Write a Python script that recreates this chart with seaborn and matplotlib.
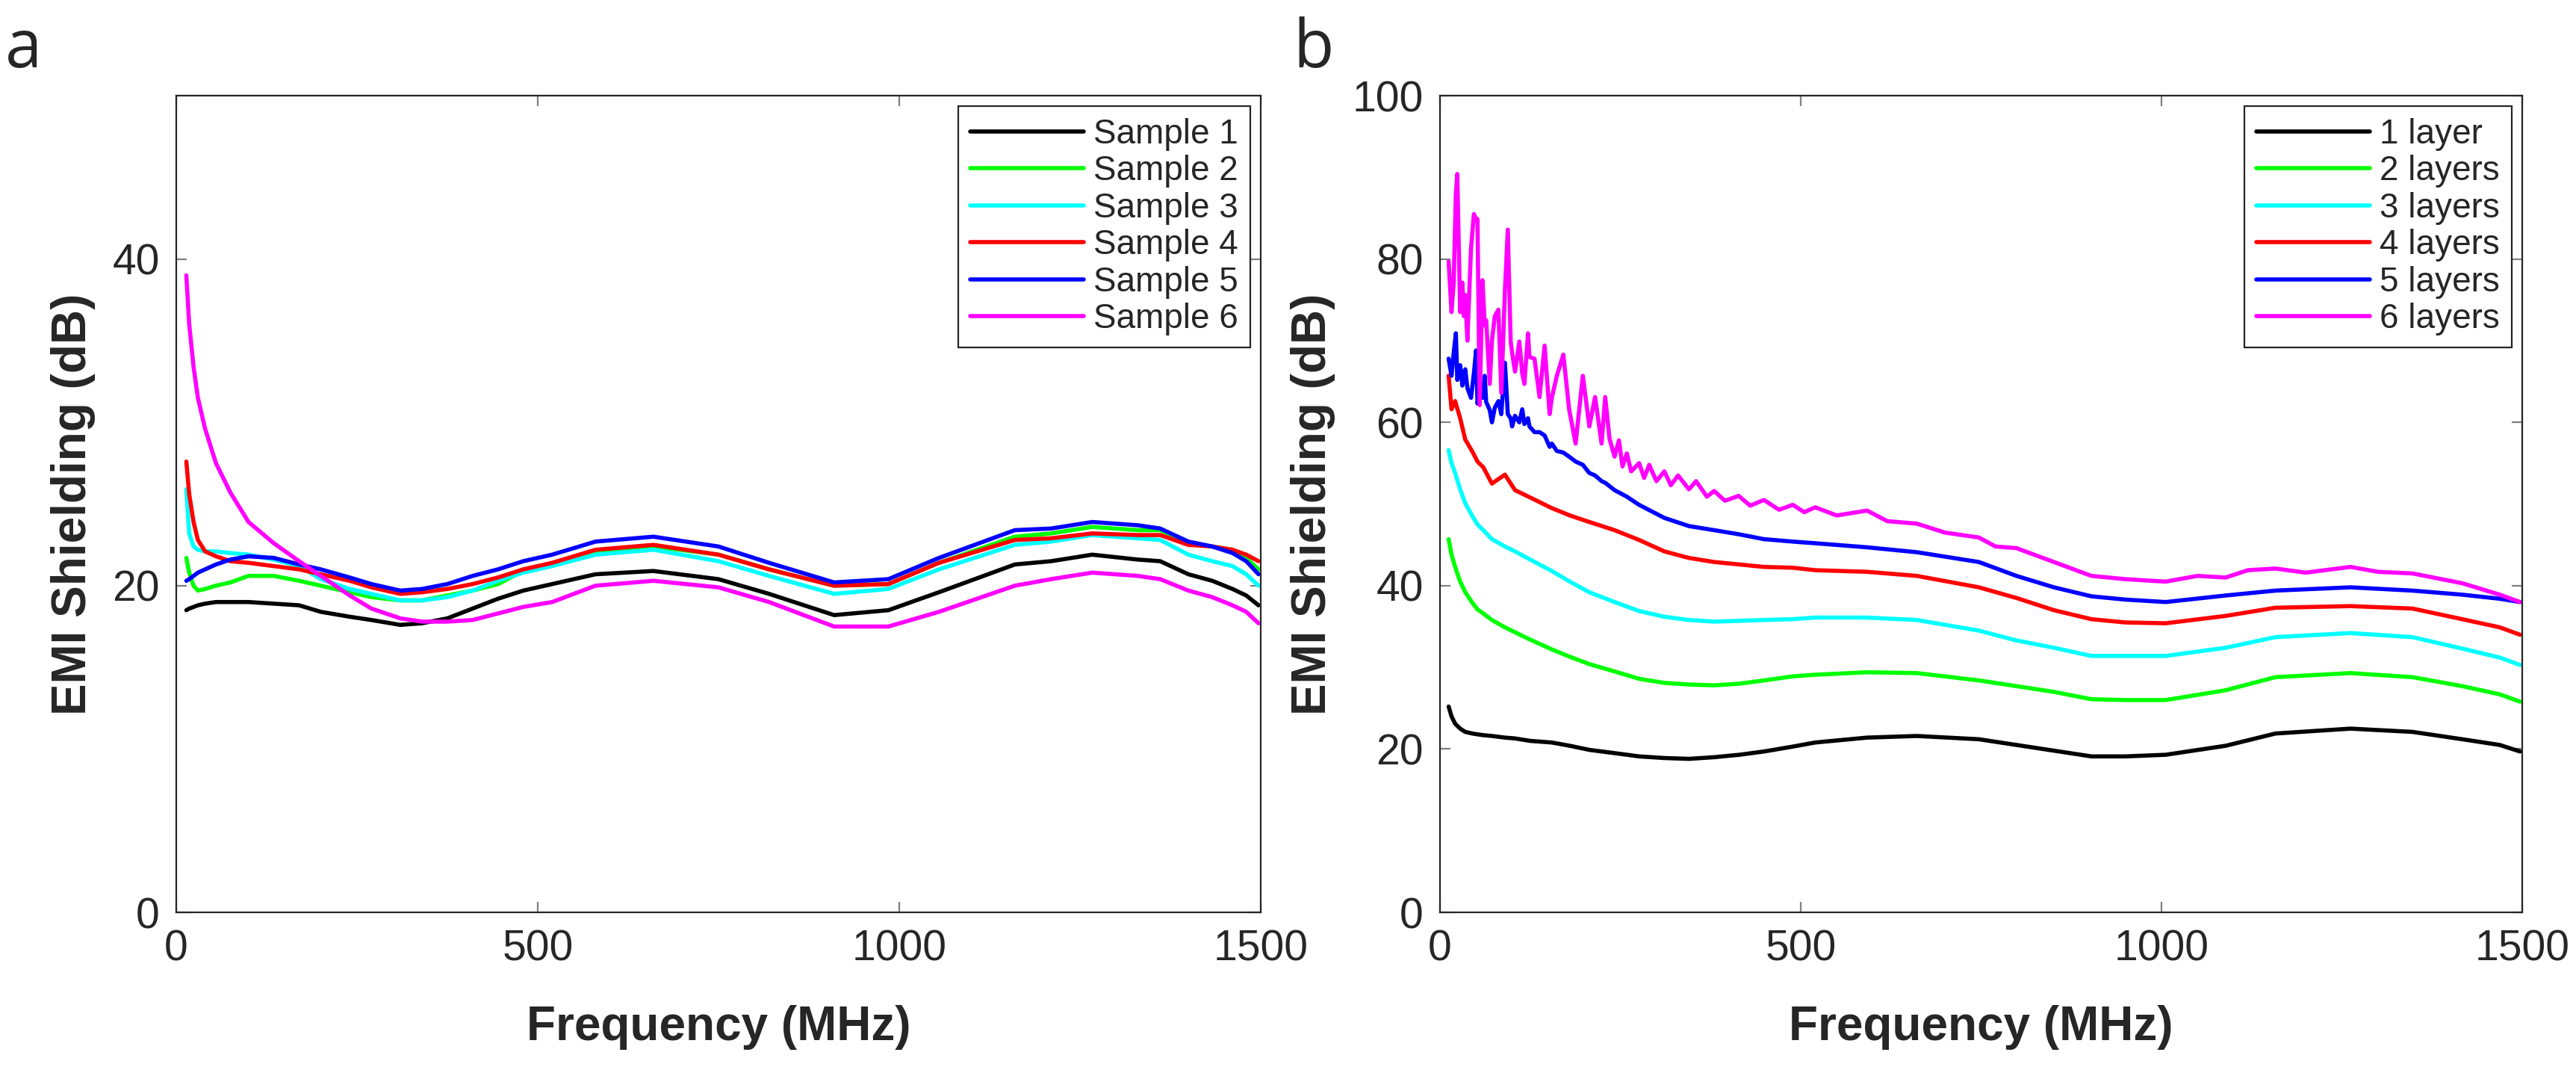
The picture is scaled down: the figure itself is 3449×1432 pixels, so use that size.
import numpy as np
import pandas as pd
import matplotlib
matplotlib.use("Agg")
import matplotlib.pyplot as plt
import seaborn as sns

# ---- panel a: six samples ----
freq_a = [14, 18, 24, 30, 40, 55, 75, 100, 135, 170, 200, 240, 270, 310, 340, 375,
          410, 445, 480, 520, 580, 660, 750, 820, 910, 985, 1055, 1160, 1210, 1267,
          1330, 1361, 1400, 1433, 1461, 1480, 1497]

sample_1 = [18.5, 18.6, 18.7, 18.8, 18.9, 19.0, 19.0, 19.0, 18.9, 18.8, 18.4, 18.1, 17.9,
            17.6, 17.7, 18.0, 18.6, 19.2, 19.7, 20.1, 20.7, 20.9, 20.4, 19.5, 18.2, 18.5,
            19.6, 21.3, 21.5, 21.9, 21.6, 21.5, 20.7, 20.3, 19.8, 19.4, 18.8]
sample_2 = [21.7, 20.8, 20.0, 19.7, 19.8, 20.0, 20.2, 20.6, 20.6, 20.3, 20.0, 19.6, 19.3,
            19.1, 19.1, 19.4, 19.7, 20.1, 20.9, 21.3, 22.0, 22.4, 21.9, 21.0, 20.0, 20.1,
            21.4, 23.0, 23.2, 23.6, 23.4, 23.4, 22.6, 22.4, 22.2, 21.7, 21.0]
sample_3 = [25.9, 23.2, 22.4, 22.2, 22.1, 22.1, 22.0, 21.9, 21.6, 21.2, 20.4, 19.8, 19.5,
            19.1, 19.1, 19.3, 19.7, 20.3, 20.8, 21.2, 21.9, 22.2, 21.5, 20.6, 19.5, 19.8,
            21.0, 22.5, 22.7, 23.1, 22.9, 22.8, 21.9, 21.5, 21.2, 20.7, 20.0]
sample_4 = [27.6, 25.6, 23.9, 22.8, 22.1, 21.8, 21.5, 21.4, 21.2, 21.0, 20.7, 20.3, 19.9,
            19.5, 19.6, 19.8, 20.1, 20.5, 21.0, 21.4, 22.2, 22.5, 21.9, 21.0, 20.0, 20.1,
            21.4, 22.8, 22.9, 23.2, 23.1, 23.1, 22.5, 22.4, 22.2, 21.9, 21.5]
sample_5 = [20.3, 20.4, 20.6, 20.8, 21.0, 21.3, 21.6, 21.8, 21.7, 21.3, 21.0, 20.5, 20.1,
            19.7, 19.8, 20.1, 20.6, 21.0, 21.5, 21.9, 22.7, 23.0, 22.4, 21.4, 20.2, 20.4,
            21.7, 23.4, 23.5, 23.9, 23.7, 23.5, 22.7, 22.4, 22.0, 21.5, 20.7]
sample_6 = [39.0, 36.0, 33.4, 31.5, 29.6, 27.5, 25.7, 23.9, 22.6, 21.5, 20.6, 19.4, 18.6,
            18.0, 17.8, 17.8, 17.9, 18.3, 18.7, 19.0, 20.0, 20.3, 19.9, 19.0, 17.5, 17.5,
            18.4, 20.0, 20.4, 20.8, 20.6, 20.4, 19.7, 19.3, 18.8, 18.4, 17.7]

# ---- panel b: number of layers ----
freq_b = [12, 16, 21, 28, 35, 45, 52, 60, 72, 90, 104, 125, 155, 180, 207, 242, 276,
          311, 345, 380, 415, 449, 489, 520, 592, 661, 747, 799, 851, 903, 950, 1006,
          1089, 1158, 1262, 1348, 1417, 1469, 1497]

layer_1 = [25.2, 24.0, 23.1, 22.5, 22.1, 21.9, 21.8, 21.7, 21.6, 21.4, 21.3, 21.0, 20.8,
           20.4, 19.9, 19.5, 19.1, 18.9, 18.8, 19.0, 19.3, 19.7, 20.3, 20.8, 21.4, 21.6,
           21.2, 20.5, 19.8, 19.1, 19.1, 19.3, 20.4, 21.9, 22.5, 22.1, 21.2, 20.5, 19.7]
layer_2 = [45.7, 43.8, 42.3, 40.5, 39.2, 37.9, 37.1, 36.6, 35.8, 34.9, 34.3, 33.4, 32.2,
           31.3, 30.4, 29.5, 28.6, 28.1, 27.9, 27.8, 28.0, 28.4, 28.9, 29.1, 29.4, 29.3,
           28.4, 27.7, 27.0, 26.1, 26.0, 26.0, 27.2, 28.8, 29.3, 28.8, 27.7, 26.7, 25.8]
layer_3 = [56.6, 55.0, 53.8, 51.8, 50.1, 48.5, 47.5, 46.8, 45.7, 44.8, 44.2, 43.2, 41.8,
           40.5, 39.2, 38.0, 36.9, 36.2, 35.8, 35.6, 35.7, 35.8, 35.9, 36.1, 36.1, 35.8,
           34.5, 33.3, 32.4, 31.4, 31.4, 31.4, 32.4, 33.7, 34.2, 33.7, 32.3, 31.2, 30.3]
layer_4 = [65.7, 61.6, 62.6, 60.5, 57.9, 56.4, 55.2, 54.5, 52.5, 53.6, 51.7, 50.8, 49.5,
           48.6, 47.8, 46.8, 45.6, 44.2, 43.4, 42.9, 42.6, 42.3, 42.2, 41.9, 41.7, 41.2,
           39.8, 38.5, 37.0, 35.9, 35.5, 35.4, 36.3, 37.3, 37.5, 37.2, 35.9, 34.9, 34.0]

# 5 layers is noisy below ~250 MHz, so it gets a denser grid
freq_b5 = [12, 16, 19, 22, 24, 28, 31, 33, 35, 38, 43, 47, 50, 52, 55, 59, 62, 64,
           69, 72, 76, 81, 85, 90, 94, 98, 100, 104, 110, 114, 117, 122, 124, 131,
           138, 145, 152, 155, 162, 171, 179, 188, 198, 207, 215, 224, 229, 242,
           259, 276, 311, 345, 380, 414, 449, 489, 520, 592, 661, 747, 799, 851,
           903, 950, 1006, 1089, 1158, 1262, 1348, 1417, 1469, 1497]
layer_5 = [67.8, 65.7, 68.5, 70.9, 65.2, 67.0, 64.5, 65.7, 66.5, 64.2, 63.0, 66.0, 68.8,
           62.3, 64.0, 63.0, 65.7, 62.5, 61.5, 60.0, 61.8, 62.6, 61.0, 67.3, 61.0, 60.5,
           59.5, 60.8, 60.0, 61.6, 59.8, 60.5, 59.5, 58.8, 58.8, 58.4, 57.0, 57.4, 56.5,
           56.3, 55.8, 55.2, 54.8, 53.8, 53.5, 52.8, 52.6, 51.7, 50.9, 49.9, 48.3, 47.3,
           46.8, 46.3, 45.7, 45.4, 45.2, 44.7, 44.1, 42.9, 41.2, 39.8, 38.7, 38.3, 38.0,
           38.8, 39.4, 39.8, 39.4, 38.9, 38.4, 38.0]

# 6 layers is the noisiest trace
freq_b6 = [12, 16, 19, 22, 24, 28, 31, 33, 35, 38, 43, 47, 50, 52, 55, 59, 62, 64,
           69, 72, 76, 81, 85, 90, 94, 98, 100, 104, 110, 114, 117, 122, 124, 131,
           138, 145, 152, 155, 162, 171, 179, 188, 198, 207, 215, 224, 229, 235, 242,
           248, 253, 259, 265, 276, 283, 290, 300, 311, 320, 330, 345, 355, 370, 380,
           395, 414, 430, 449, 470, 489, 505, 520, 550, 592, 620, 661, 700, 747, 770,
           799, 851, 903, 950, 1006, 1050, 1089, 1120, 1158, 1200, 1262, 1300, 1348,
           1417, 1469, 1497]
layer_6 = [79.7, 73.5, 77.1, 88.0, 90.4, 73.5, 77.1, 73.0, 75.6, 70.0, 81.3, 85.5, 84.9,
           84.9, 62.1, 77.4, 71.9, 72.5, 64.7, 70.0, 73.0, 73.8, 63.6, 76.1, 83.6, 69.9,
           68.5, 66.2, 69.9, 66.0, 64.7, 70.9, 68.0, 67.8, 63.1, 69.4, 61.0, 63.0, 65.7,
           68.3, 61.6, 57.4, 65.7, 59.5, 63.1, 57.4, 63.1, 58.0, 55.8, 57.8, 54.6, 56.2,
           54.0, 55.0, 53.2, 54.8, 52.8, 54.0, 52.3, 53.5, 51.8, 52.8, 50.9, 51.6, 50.4,
           51.0, 49.8, 50.5, 49.3, 49.9, 49.0, 49.6, 48.6, 49.2, 47.9, 47.6, 46.5, 45.9,
           44.8, 44.6, 42.9, 41.2, 40.8, 40.5, 41.2, 41.0, 41.9, 42.1, 41.6, 42.3, 41.7,
           41.5, 40.3, 38.9, 38.0]

colors = ["#000000", "#00ff00", "#00ffff", "#ff0000", "#0000ff", "#ff00ff"]
labels_a = ["Sample 1", "Sample 2", "Sample 3", "Sample 4", "Sample 5", "Sample 6"]
labels_b = ["1 layer", "2 layers", "3 layers", "4 layers", "5 layers", "6 layers"]

sns.set_style("ticks")
plt.rcParams["font.family"] = ["Liberation Sans", "DejaVu Sans"]

fig = plt.figure(figsize=(17.245, 7.16), dpi=200)
ax_a = fig.add_axes([0.0684, 0.1473, 0.4210, 0.7633])
ax_b = fig.add_axes([0.5590, 0.1473, 0.4201, 0.7633])

series_a = [(freq_a, s) for s in [sample_1, sample_2, sample_3, sample_4, sample_5, sample_6]]
series_b = [(freq_b, layer_1), (freq_b, layer_2), (freq_b, layer_3), (freq_b, layer_4),
            (freq_b5, layer_5), (freq_b6, layer_6)]

for ax, series, labels in [(ax_a, series_a, labels_a), (ax_b, series_b, labels_b)]:
    for (x, y), c, lab in zip(series, colors, labels):
        df = pd.DataFrame({"freq": x, "se": y})
        sns.lineplot(data=df, x="freq", y="se", color=c, label=lab, lw=2.0,
                     estimator=None, sort=False, ax=ax)

ax_a.set_ylim(0, 50)
ax_a.set_yticks([0, 20, 40])
ax_b.set_ylim(0, 100)
ax_b.set_yticks([0, 20, 40, 60, 80, 100])

for ax in [ax_a, ax_b]:
    ax.set_xlim(0, 1500)
    ax.set_xticks([0, 500, 1000, 1500])
    ax.set_xlabel("Frequency (MHz)", fontsize=23, fontweight="bold", labelpad=17)
    ax.set_ylabel("EMI Shielding (dB)", fontsize=23, fontweight="bold", labelpad=8)
    ax.tick_params(direction="in", length=5, width=0.8, color="#808080",
                   labelsize=20.5, pad=8, top=True, right=True)
    for sp in ax.spines.values():
        sp.set_visible(True)
        sp.set_color("#262626")
        sp.set_linewidth(0.8)
    leg = ax.legend(loc="upper right", fontsize=16.5, frameon=True, fancybox=False,
                    edgecolor="#262626", framealpha=1, handlelength=3.3,
                    handletextpad=0.3, labelspacing=0.12, borderpad=0.35,
                    borderaxespad=0.3)
    leg.get_frame().set_linewidth(0.8)
    for line in leg.get_lines():
        line.set_linewidth(2.0)

fig.text(0.002, 0.985, "a", fontsize=32, family=["Open Sans", "DejaVu Sans"], va="top")
fig.text(0.502, 0.985, "b", fontsize=32, family=["Open Sans", "DejaVu Sans"], va="top")

fig.savefig("out.png", dpi=200)
